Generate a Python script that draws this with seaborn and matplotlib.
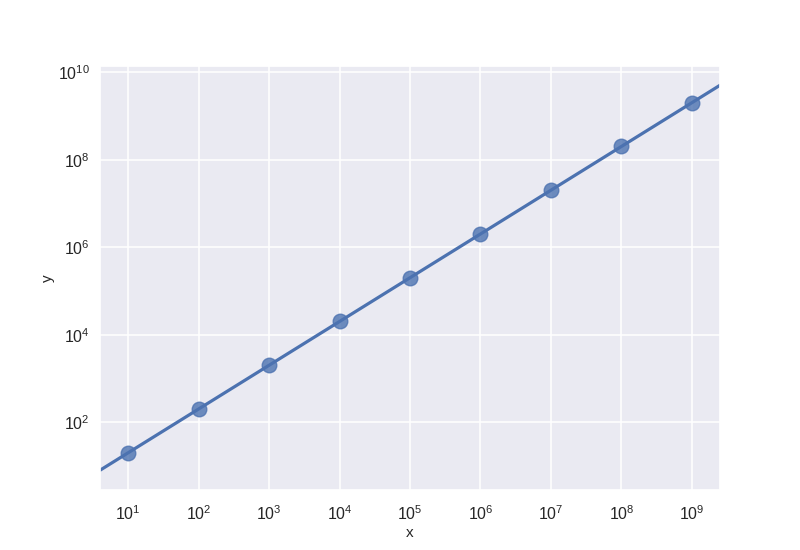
import numpy as np
import pandas as pd
import seaborn as sns
import matplotlib
matplotlib.use("Agg")
import matplotlib.pyplot as plt

# data: y = 2x on a log-log grid
x_vals = [1e1, 1e2, 1e3, 1e4, 1e5, 1e6, 1e7, 1e8, 1e9]
y_vals = [2e1, 2e2, 2e3, 2e4, 2e5, 2e6, 2e7, 2e8, 2e9]
x_ticks = [1e1, 1e2, 1e3, 1e4, 1e5, 1e6, 1e7, 1e8, 1e9]
y_ticks = [1e2, 1e4, 1e6, 1e8, 1e10]

df = pd.DataFrame({"x": x_vals, "y": y_vals})

sns.set_theme(style="darkgrid", context="notebook")
plt.rcParams['font.family'] = ['Liberation Sans', 'DejaVu Sans']
plt.rcParams['axes.labelsize'] = 11
plt.rcParams['xtick.labelsize'] = 11.5
plt.rcParams['ytick.labelsize'] = 11.5
plt.rcParams['xtick.major.pad'] = 5
plt.rcParams['ytick.major.pad'] = 1.5

fig, ax = plt.subplots(figsize=(8, 5.5), dpi=100)
fig.subplots_adjust(left=0.125, right=0.9, bottom=0.11, top=0.88)
ax.set_xscale("log")
ax.set_yscale("log")

sns.regplot(data=df, x="x", y="y", ax=ax, ci=None, truncate=False,
            color="#4C72B0", scatter_kws={"s": 110, "alpha": 0.8},
            line_kws={"lw": 2.3})

xlim = ax.get_xlim()
ylim = ax.get_ylim()
ax.set_xticks(x_ticks)
ax.set_yticks(y_ticks)
ax.set_xlim(xlim)
ax.set_ylim(ylim)
ax.minorticks_off()
ax.grid(True, which="major", color="white", lw=1.1)
ax.set_xlabel("x", labelpad=2)
ax.set_ylabel("y", labelpad=2)

fig.savefig("out.png", dpi=100)
